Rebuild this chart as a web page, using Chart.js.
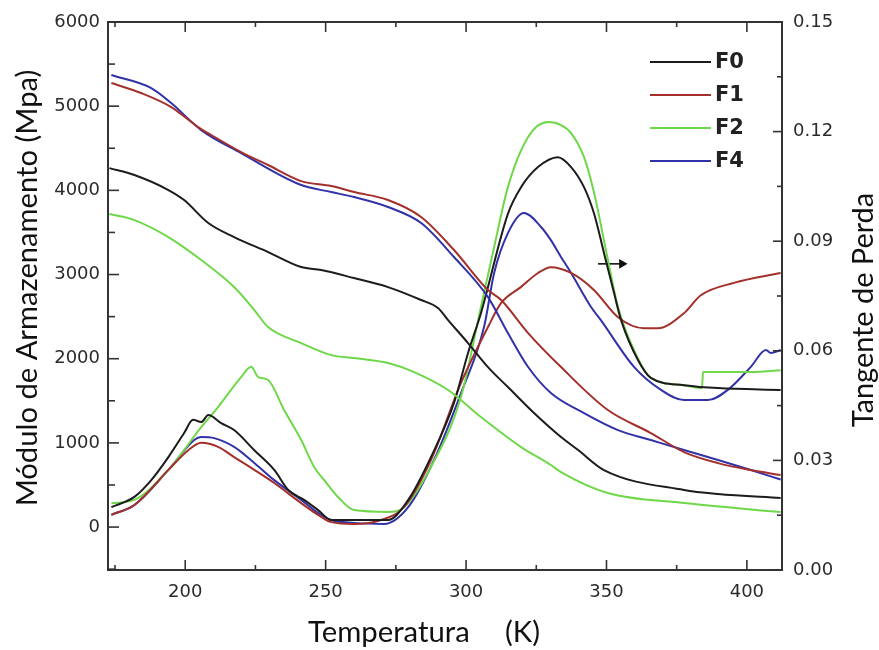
<!DOCTYPE html>
<html>
<head>
<meta charset="utf-8">
<script src="https://cdn.jsdelivr.net/npm/chart.js@4.4.1/dist/chart.umd.min.js"></script>
<style>
  html, body { margin: 0; padding: 0; background: #fff; }
  #wrap { width: 879px; height: 650px; position: relative; }
</style>
</head>
<body>
<div id="wrap"><canvas id="dma"></canvas></div>
<script>
// storage modulus (MPa), left axis
const f0ModT = [173.0, 181.9, 194.0, 199.6, 208.2, 217.4, 229.5, 241.3, 248.4, 260.1, 272.2, 284.0, 290.0, 293.6, 300.7, 307.8, 314.9, 324.2, 333.8, 339.9, 349.1, 377.6, 389.7, 412.0]
const f0Mod  = [4264, 4182, 4004, 3885, 3612, 3445, 3267, 3089, 3053, 2958, 2851, 2697, 2602, 2459, 2186, 1901, 1663, 1354, 1069, 915, 677, 440, 392, 345]

const f1ModT = [173.7, 184.3, 195.0, 204.6, 209.3, 219.9, 229.5, 241.3, 252.0, 260.1, 272.2, 284.0, 295.7, 307.8, 312.5, 322.1, 333.8, 350.5, 365.8, 377.6, 389.7, 401.4, 412.0]
const f1Mod  = [5275, 5156, 4990, 4752, 4657, 4455, 4301, 4110, 4051, 3980, 3885, 3683, 3291, 2816, 2697, 2305, 1901, 1390, 1117, 891, 760, 677, 618]

const f2ModT = [173.0, 181.9, 194.0, 205.7, 217.4, 224.6, 229.5, 241.3, 252.0, 260.1, 272.2, 281.5, 293.6, 305.3, 319.6, 330.2, 333.8, 350.5, 377.6, 412.0]
const f2Mod  = [3718, 3647, 3445, 3172, 2851, 2578, 2376, 2186, 2043, 2008, 1948, 1841, 1628, 1307, 950, 737, 653, 404, 285, 178]

const f4ModT = [173.7, 187.9, 195.0, 205.7, 219.9, 241.3, 252.0, 260.1, 272.2, 284.0, 295.7, 307.8, 314.9, 322.1, 330.2, 342.0, 354.1, 365.8, 377.6, 389.7, 401.4, 412.0]
const f4Mod  = [5370, 5215, 5037, 4716, 4443, 4063, 3980, 3920, 3802, 3612, 3208, 2732, 2305, 1901, 1592, 1354, 1152, 1034, 915, 796, 677, 565]

// loss tangent, right axis
const f0TanT = [173.7, 181.9, 187.9, 194.0, 199.6, 202.8, 205.7, 208.2, 212.8, 217.4, 224.6, 231.7, 236.7, 242.3, 247.3, 252.0, 260.1, 272.2, 279.4, 287.5, 295.7, 300.7, 305.3, 314.9, 319.6, 325.6, 332.7, 337.4, 342.0, 345.6, 349.1, 352.7, 355.2, 361.2, 365.8, 377.6, 389.7, 412.0]
const f0Tan  = [0.0172, 0.0200, 0.0246, 0.0309, 0.0375, 0.0411, 0.0405, 0.0424, 0.0402, 0.0383, 0.0328, 0.0274, 0.0219, 0.0192, 0.0164, 0.0137, 0.0137, 0.0137, 0.0192, 0.0309, 0.0457, 0.0594, 0.0703, 0.0975, 0.1048, 0.1103, 0.1130, 0.1103, 0.1048, 0.0975, 0.0868, 0.0758, 0.0684, 0.0575, 0.0526, 0.0506, 0.0498, 0.0493]

const f1TanT = [173.7, 181.9, 194.0, 201.1, 205.7, 211.7, 217.4, 224.6, 231.7, 241.3, 247.3, 252.0, 260.1, 269.8, 277.9, 287.5, 298.2, 307.8, 312.5, 319.6, 325.6, 330.2, 337.4, 345.6, 354.1, 363.3, 368.3, 377.6, 383.6, 395.4, 412.0]
const f1Tan  = [0.0151, 0.0178, 0.0274, 0.0328, 0.0348, 0.0337, 0.0309, 0.0274, 0.0238, 0.0183, 0.0151, 0.0131, 0.0126, 0.0137, 0.0172, 0.0301, 0.0512, 0.0665, 0.0731, 0.0775, 0.0813, 0.0829, 0.0813, 0.0766, 0.0692, 0.0662, 0.0662, 0.0703, 0.0752, 0.0786, 0.0813]

const f2TanT = [173.7, 181.9, 194.0, 205.7, 211.7, 219.9, 223.5, 226.0, 229.5, 235.2, 241.3, 245.9, 249.5, 254.4, 260.1, 272.2, 277.9, 287.5, 298.2, 305.3, 310.0, 314.9, 322.1, 329.2, 333.8, 337.4, 342.0, 345.6, 350.5, 354.1, 359.8, 365.8, 377.6, 384.0, 384.4, 401.4, 412.0]
const f2Tan  = [0.0183, 0.0192, 0.0274, 0.0391, 0.0446, 0.0528, 0.0556, 0.0528, 0.0520, 0.0438, 0.0356, 0.0282, 0.0246, 0.0200, 0.0164, 0.0159, 0.0172, 0.0282, 0.0474, 0.0720, 0.0884, 0.1048, 0.1185, 0.1226, 0.1218, 0.1196, 0.1130, 0.1032, 0.0849, 0.0720, 0.0602, 0.0526, 0.0506, 0.0498, 0.0542, 0.0542, 0.0547]

const f4TanT = [173.7, 181.9, 194.0, 203.2, 205.7, 210.3, 217.4, 224.6, 231.7, 241.3, 247.3, 252.0, 260.1, 270.8, 279.4, 288.6, 298.2, 306.4, 310.0, 314.9, 320.6, 326.7, 330.2, 333.8, 337.4, 344.5, 348.0, 359.8, 369.4, 377.6, 386.1, 393.2, 401.4, 406.8, 408.5, 412.0]
const f4Tan  = [0.0151, 0.0178, 0.0274, 0.0356, 0.0364, 0.0361, 0.0337, 0.0293, 0.0246, 0.0192, 0.0156, 0.0137, 0.0129, 0.0126, 0.0172, 0.0301, 0.0484, 0.0665, 0.0813, 0.0922, 0.0977, 0.0939, 0.0903, 0.0857, 0.0813, 0.0720, 0.0684, 0.0556, 0.0493, 0.0465, 0.0465, 0.0493, 0.0556, 0.0602, 0.0594, 0.0602]

// arrow pointing at the tan delta axis
const arrowT = [347.0, 355.5]
const arrowTan = [0.0838, 0.0838]

const seriesNames = ['F0', 'F1', 'F2', 'F4']
const seriesColors = ['#1c1c1c', '#a3302b', '#6fd84a', '#3232a8']

const xTicks = [200, 250, 300, 350, 400]
const xMinorTicks = [175, 225, 275, 325, 375]
const leftTicks = [0, 1000, 2000, 3000, 4000, 5000, 6000]
const leftMinorTicks = [-500, 500, 1500, 2500, 3500, 4500, 5500]
const rightTicks = [0, 0.03, 0.06, 0.09, 0.12, 0.15]
const rightMinorTicks = [0.015, 0.045, 0.075, 0.105, 0.135]

function pts(xs, ys) {
  return xs.map((x, i) => ({ x, y: ys[i] }))
}

function series(label, xs, ys, color, axis) {
  return {
    label,
    data: pts(xs, ys),
    yAxisID: axis,
    borderColor: color,
    backgroundColor: color,
    borderWidth: 2,
    pointRadius: 0,
    cubicInterpolationMode: 'monotone',
  }
}

const tickFont = { family: 'DejaVu Sans', size: 18 }
const tickColor = '#2b2b2b'

function fitFont(ctx, text, width, family) {
  ctx.font = '100px ' + family
  const w = ctx.measureText(text).width
  return (100 * width / w).toFixed(1) + 'px ' + family
}

const framePlugin = {
  id: 'frame',
  afterDraw(chart) {
    const ctx = chart.ctx
    const { left, right, top, bottom } = chart.chartArea
    const xs = chart.scales.x, yl = chart.scales.yL, yr = chart.scales.yR
    ctx.save()
    ctx.strokeStyle = '#333'
    ctx.lineWidth = 2
    ctx.strokeRect(left, top, right - left, bottom - top)

    ctx.lineWidth = 1.6
    const seg = (x1, y1, x2, y2) => { ctx.beginPath(); ctx.moveTo(x1, y1); ctx.lineTo(x2, y2); ctx.stroke() }
    xTicks.forEach(v => { const p = xs.getPixelForValue(v); seg(p, bottom, p, bottom - 10); seg(p, top, p, top + 10) })
    xMinorTicks.forEach(v => { const p = xs.getPixelForValue(v); seg(p, bottom, p, bottom - 5); seg(p, top, p, top + 5) })
    leftTicks.forEach(v => { const p = yl.getPixelForValue(v); seg(left, p, left + 11, p) })
    leftMinorTicks.forEach(v => { const p = yl.getPixelForValue(v); seg(left, p, left + 7, p) })
    rightTicks.forEach(v => { const p = yr.getPixelForValue(v); seg(right, p, right - 9, p) })
    rightMinorTicks.forEach(v => { const p = yr.getPixelForValue(v); seg(right, p, right - 5, p) })

    // legend, top right inside the frame
    ctx.lineWidth = 2.2
    ctx.textBaseline = 'middle'
    ctx.textAlign = 'left'
    ctx.font = 'bold 21px DejaVu Sans'
    seriesNames.forEach((name, i) => {
      const y = top + 40 + i * 33
      ctx.strokeStyle = seriesColors[i]
      seg(right - 132, y, right - 71, y)
      ctx.fillStyle = '#222'
      ctx.fillText(name, right - 67, y + 1)
    })

    // axis titles
    ctx.fillStyle = '#111'
    ctx.textBaseline = 'alphabetic'
    ctx.textAlign = 'center'
    ctx.save()
    ctx.font = fitFont(ctx, 'Módulo de Armazenamento (Mpa)', 437, 'Lato')
    ctx.translate(37, 288)
    ctx.rotate(-Math.PI / 2)
    ctx.fillText('Módulo de Armazenamento (Mpa)', 0, 0)
    ctx.restore()

    ctx.save()
    ctx.font = fitFont(ctx, 'Tangente de Perda', 234, 'Lato')
    ctx.translate(873, 310)
    ctx.rotate(-Math.PI / 2)
    ctx.fillText('Tangente de Perda', 0, 0)
    ctx.restore()

    ctx.textAlign = 'left'
    ctx.font = fitFont(ctx, 'Temperatura', 162, 'Lato')
    ctx.fillText('Temperatura', 308, 642)
    ctx.fillText('(K)', 505, 642)
    ctx.restore()
  },
}

new Chart(document.getElementById('dma'), {
  type: 'line',
  data: {
    datasets: [
      series('F0', f0ModT, f0Mod, seriesColors[0], 'yL'),
      series('F1', f1ModT, f1Mod, seriesColors[1], 'yL'),
      series('F2', f2ModT, f2Mod, seriesColors[2], 'yL'),
      series('F4', f4ModT, f4Mod, seriesColors[3], 'yL'),
      series('F0', f0TanT, f0Tan, seriesColors[0], 'yR'),
      series('F1', f1TanT, f1Tan, seriesColors[1], 'yR'),
      series('F2', f2TanT, f2Tan, seriesColors[2], 'yR'),
      series('F4', f4TanT, f4Tan, seriesColors[3], 'yR'),
      {
        label: 'arrow',
        data: pts(arrowT, arrowTan),
        yAxisID: 'yR',
        borderColor: '#111',
        backgroundColor: '#111',
        borderWidth: 1.6,
        pointRadius: [0, 4],
        pointStyle: 'triangle',
        rotation: 90,
      },
    ],
  },
  options: {
    responsive: true,
    maintainAspectRatio: false,
    animation: false,
    layout: { padding: { top: 22, left: 0, right: 0, bottom: 0 } },
    plugins: { legend: { display: false }, tooltip: { enabled: false } },
    scales: {
      x: {
        type: 'linear', min: 172.5, max: 412.5,
        grid: { display: false, drawTicks: false },
        border: { display: false },
        afterBuildTicks: s => { s.ticks = xTicks.map(v => ({ value: v })) },
        afterFit: s => { s.height = 80 },
        ticks: { padding: 12, font: tickFont, color: tickColor, maxRotation: 0, callback: v => String(v) },
      },
      yL: {
        position: 'left', min: -510, max: 6000,
        grid: { display: false, drawTicks: false },
        border: { display: false },
        afterBuildTicks: s => { s.ticks = leftTicks.map(v => ({ value: v })) },
        afterFit: s => { s.width = 108 },
        ticks: { padding: 8, font: tickFont, color: tickColor, callback: v => String(v) },
      },
      yR: {
        position: 'right', min: 0, max: 0.15,
        grid: { display: false, drawTicks: false },
        border: { display: false },
        afterBuildTicks: s => { s.ticks = rightTicks.map(v => ({ value: v })) },
        afterFit: s => { s.width = 97 },
        ticks: { padding: 11, font: tickFont, color: tickColor, callback: v => v.toFixed(2) },
      },
    },
  },
  plugins: [framePlugin],
})
</script>
</body>
</html>
